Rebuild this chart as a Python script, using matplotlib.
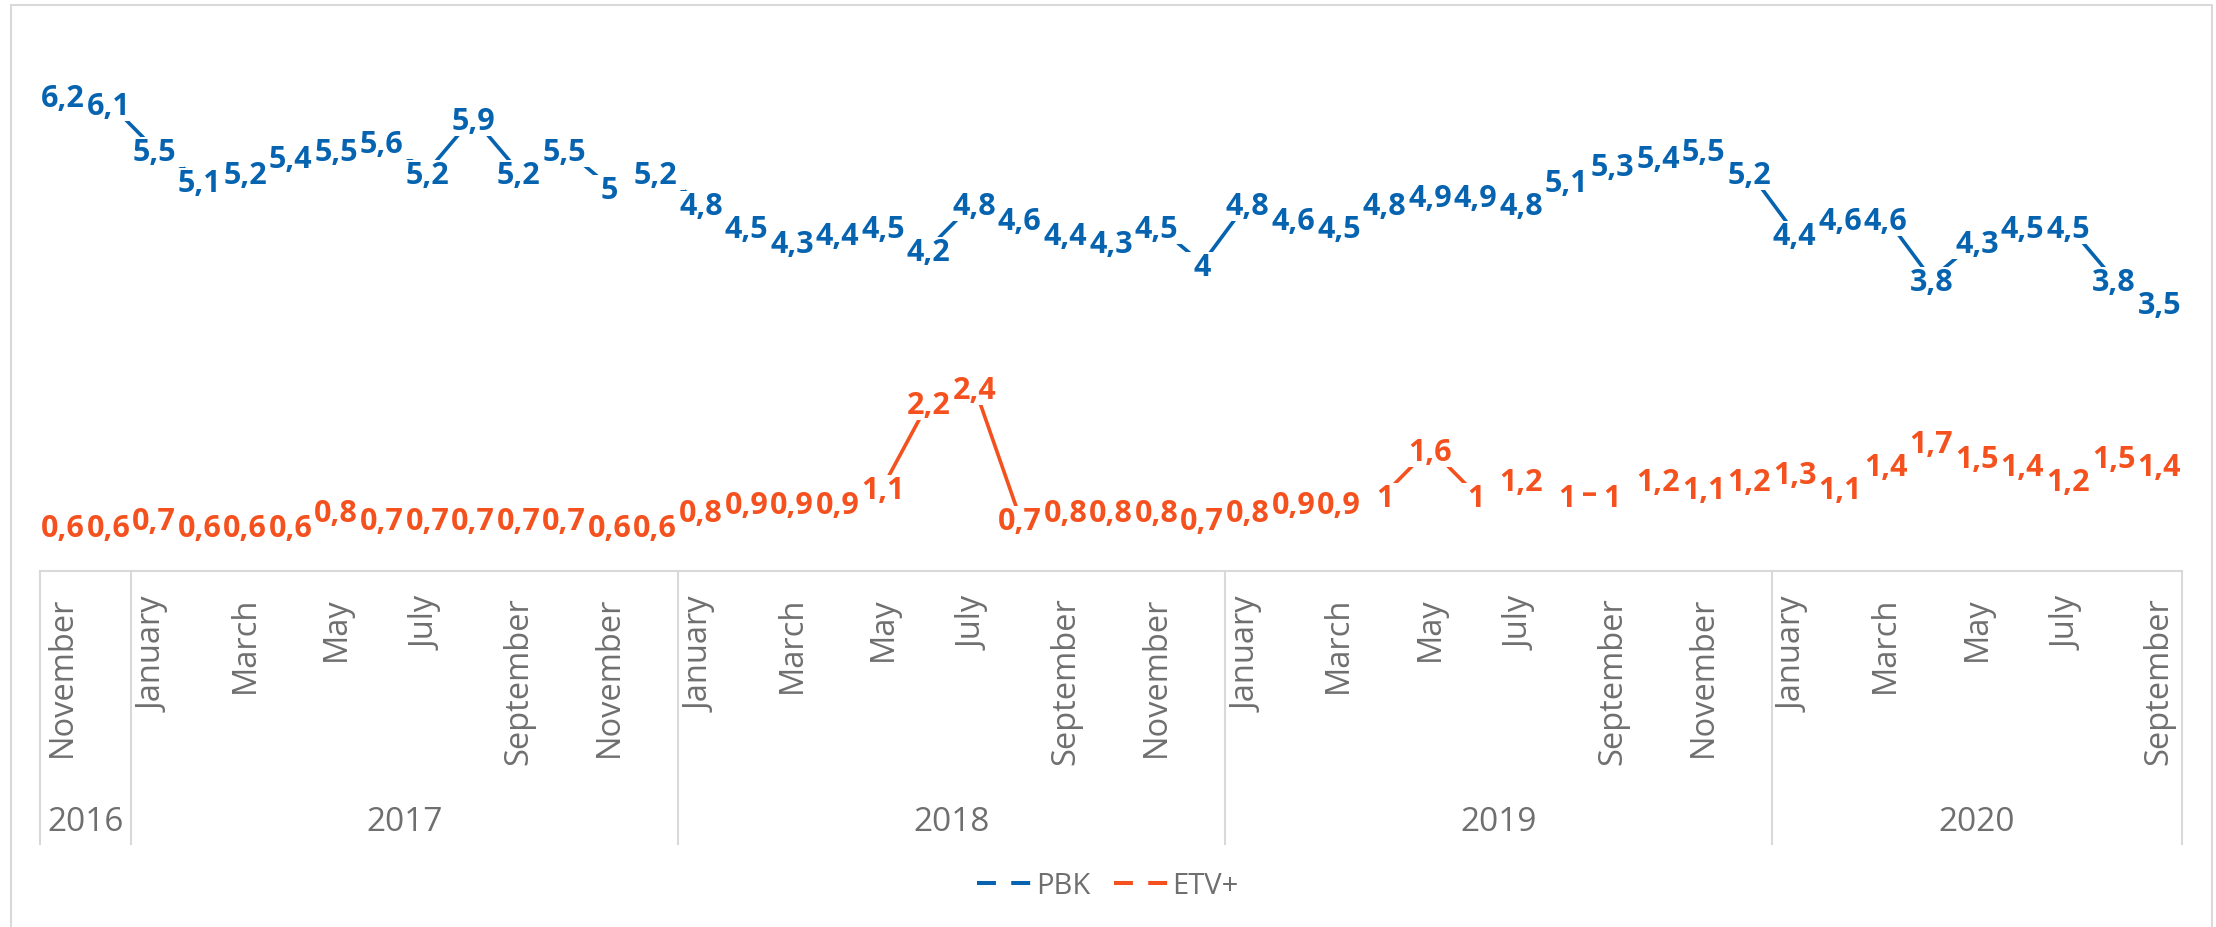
import matplotlib.pyplot as plt
import matplotlib.transforms as mtransforms
from matplotlib.lines import Line2D
from matplotlib.patches import Rectangle

plt.rcParams['font.family'] = ['Open Sans', 'DejaVu Sans']

# data
meses = ["November", "December",
         "January", "February", "March", "April", "May", "June", "July",
         "August", "September", "October", "November", "December",
         "January", "February", "March", "April", "May", "June", "July",
         "August", "September", "October", "November", "December",
         "January", "February", "March", "April", "May", "June", "July",
         "August", "September", "October", "November", "December",
         "January", "February", "March", "April", "May", "June", "July",
         "August", "September"]
anos = [2016] * 2 + [2017] * 12 + [2018] * 12 + [2019] * 12 + [2020] * 9

pbk = [6.2, 6.1, 5.5, 5.1, 5.2, 5.4, 5.5, 5.6, 5.2, 5.9, 5.2, 5.5, 5.0, 5.2,
       4.8, 4.5, 4.3, 4.4, 4.5, 4.2, 4.8, 4.6, 4.4, 4.3, 4.5, 4.0,
       4.8, 4.6, 4.5, 4.8, 4.9, 4.9, 4.8, 5.1, 5.3, 5.4, 5.5, 5.2,
       4.4, 4.6, 4.6, 3.8, 4.3, 4.5, 4.5, 3.8, 3.5]
etv = [0.6, 0.6, 0.7, 0.6, 0.6, 0.6, 0.8, 0.7, 0.7, 0.7, 0.7, 0.7, 0.6, 0.6,
       0.8, 0.9, 0.9, 0.9, 1.1, 2.2, 2.4, 0.7, 0.8, 0.8, 0.8, 0.7,
       0.8, 0.9, 0.9, 1.0, 1.6, 1.0, 1.2, 1.0, 1.0, 1.2, 1.1, 1.2,
       1.3, 1.1, 1.4, 1.7, 1.5, 1.4, 1.2, 1.5, 1.4]

series = [("PBK", pbk, "#0563b0"), ("ETV+", etv, "#f4511e")]
cinza = "#6f6f6f"
linha_eixo = "#d9d9d9"

W, H = 2216, 928
fig = plt.figure(figsize=(W / 100, H / 100), dpi=100)
ax = fig.add_axes([40 / W, 356 / H, 2142 / W, 538 / H])

x = list(range(len(meses)))

for nome, vals, cor in series:
    ax.plot(x, vals, color=cor, lw=2.6, zorder=2, solid_capstyle='butt')

# rótulos: primeiro todos os fundos brancos, depois os textos por cima
for nome, vals, cor in series:
    for i, v in zip(x, vals):
        txt = f"{v:g}".replace(".", ",")
        ax.text(i, v, " " + txt + " ", ha='center', va='center_baseline',
                fontsize=22, fontweight='bold', color=(0, 0, 0, 0), zorder=3,
                bbox=dict(boxstyle='square,pad=0.0', fc='white', ec='none'))
for nome, vals, cor in series:
    for i, v in zip(x, vals):
        txt = f"{v:g}".replace(".", ",")
        ax.text(i, v, txt, ha='center', va='center_baseline', fontsize=22,
                fontweight='bold', color=cor, zorder=4)

ax.set_xlim(-0.5, len(meses) - 0.5)
ax.set_ylim(0, 7)
ax.set_yticks([])
ax.set_xticks([])
for s in ["top", "left", "right"]:
    ax.spines[s].set_visible(False)
ax.spines["bottom"].set_color(linha_eixo)
ax.spines["bottom"].set_linewidth(1.5)

# eixo de categorias em dois níveis
tr = mtransforms.blended_transform_factory(ax.transData, fig.transFigure)
for i in range(0, len(meses), 2):
    ax.text(i, (H - 597) / H, meses[i], transform=tr, rotation=90,
            ha='center', va='top', fontsize=23.5, color=cinza, clip_on=False)

fronteiras = [-0.5]
for i in range(1, len(anos)):
    if anos[i] != anos[i - 1]:
        fronteiras.append(i - 0.5)
fronteiras.append(len(anos) - 0.5)

for b in fronteiras:
    ax.plot([b, b], [356 / H, (H - 845) / H], transform=tr, color=linha_eixo,
            lw=1.5, clip_on=False)

for a, b in zip(fronteiras[:-1], fronteiras[1:]):
    ano = anos[int(a + 0.5)]
    ax.text((a + b) / 2, (H - 823) / H, str(ano), transform=tr,
            ha='center', va='center', fontsize=24, color=cinza, clip_on=False)

# legenda
handles = [Line2D([0], [0], color=cor, lw=2.9, linestyle=(0, (4.7, 3.8)))
           for nome, vals, cor in series]
leg = fig.legend(handles, [s[0] for s in series], loc='center',
                 bbox_to_anchor=(0.5, (H - 887) / H), ncol=2, frameon=False,
                 fontsize=21, handlelength=1.85, handletextpad=0.17,
                 columnspacing=0.8)
for t in leg.get_texts():
    t.set_color(cinza)

# borda do gráfico
fig.patches.append(Rectangle((11 / W, -0.02), 2201 / W, (H - 6) / H + 0.02,
                             transform=fig.transFigure, fill=False,
                             edgecolor=linha_eixo, lw=1.5))

fig.savefig("out.png", dpi=100)
